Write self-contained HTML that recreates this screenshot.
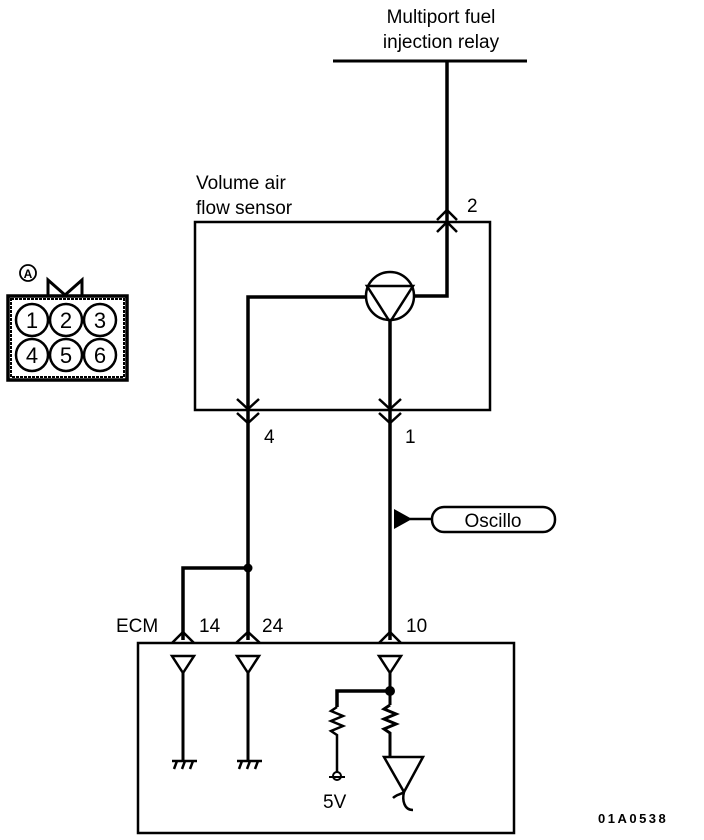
<!DOCTYPE html>
<html><head><meta charset="utf-8"><style>
html,body{margin:0;padding:0;background:#fff;width:704px;height:840px;overflow:hidden}
text{font-family:"Liberation Sans",sans-serif;fill:#000}
</style></head><body>
<svg width="704" height="840" viewBox="0 0 704 840" xmlns="http://www.w3.org/2000/svg" fill="none" stroke="#000">
<text x="441" y="23" font-size="19" text-anchor="middle" stroke="none">Multiport fuel</text>
<text x="441" y="48" font-size="19" text-anchor="middle" stroke="none">injection relay</text>
<line x1="333" y1="61" x2="527" y2="61" stroke-width="3"/>
<polyline points="447,61 447,296 414,296" stroke-width="3.5"/>
<text x="196" y="189" font-size="19" stroke="none">Volume air</text>
<text x="196" y="214" font-size="19" stroke="none">flow sensor</text>
<rect x="195" y="222" width="295" height="188" stroke-width="2.5"/>
<path d="M437,220 L447,210 L457,220 M437,232 L447,222 L457,232" stroke-width="2.5"/>
<text x="467" y="212" font-size="19" stroke="none">2</text>
<circle cx="390" cy="296" r="24" stroke-width="2.5"/>
<path d="M367,286 L413,286 L390,322 Z" stroke-width="2.5"/>
<polyline points="366,297 248,297 248,640" stroke-width="3.5"/>
<line x1="390" y1="322" x2="390" y2="640" stroke-width="3.5"/>
<path d="M237,399 L248,409 L259,399 M237,413 L248,423 L259,413" stroke-width="2.5"/>
<path d="M379,399 L390,409 L401,399 M379,413 L390,423 L401,413" stroke-width="2.5"/>
<text x="264" y="443" font-size="19" stroke="none">4</text>
<text x="405" y="443" font-size="19" stroke="none">1</text>
<path d="M394,509 L412,519 L394,529 Z" fill="#000" stroke="none"/>
<line x1="410" y1="519" x2="432" y2="519" stroke-width="2.5"/>
<rect x="432" y="507" width="123" height="25" rx="12" stroke-width="2.5"/>
<text x="493" y="527" font-size="19" text-anchor="middle" stroke="none" font-family="Liberation Mono">Oscillo</text>
<circle cx="248" cy="568" r="4.5" fill="#000" stroke="none"/>
<polyline points="248,568 183,568 183,640" stroke-width="3.5"/>
<rect x="138" y="643" width="376" height="190" stroke-width="2.5"/>
<text x="116" y="632" font-size="19" stroke="none">ECM</text>
<text x="199" y="632" font-size="19" stroke="none">14</text>
<text x="262" y="632" font-size="19" stroke="none">24</text>
<text x="406" y="632" font-size="19" stroke="none">10</text>
<path d="M172,643 L183,632 L194,643 M236,643 L248,632 L260,643 M379,643 L390,632 L401,643" stroke-width="2.5"/>
<path d="M172,656 L194,656 L183,673 Z M237,656 L259,656 L248,673 Z M379,656 L401,656 L390,673 Z" stroke-width="2.5"/>
<line x1="183" y1="673" x2="183" y2="760" stroke-width="3"/>
<line x1="248" y1="673" x2="248" y2="760" stroke-width="3"/>
<path d="M172,761 L197,761 M174,769 L177,761 M182,769 L185,761 M190,769 L193,761 M237,761 L262,761 M239,769 L242,761 M247,769 L250,761 M255,769 L258,761" stroke-width="2.5"/>
<line x1="390" y1="673" x2="390" y2="705" stroke-width="3"/>
<circle cx="390" cy="691" r="5" fill="#000" stroke="none"/>
<polyline points="390,691 337,691 337,707" stroke-width="3.5"/>
<path d="M337,707 L331,711 L343,716 L331,721 L343,726 L331,731 L337,735 L337,772" stroke-width="2.5"/>
<path d="M390,705 L384,709 L396,714 L384,719 L396,724 L384,729 L390,733 L390,757" stroke-width="3"/>
<circle cx="337" cy="776" r="4" stroke-width="2"/>
<line x1="329" y1="777" x2="345" y2="777" stroke-width="2"/>
<text x="323" y="808" font-size="19" stroke="none">5V</text>
<path d="M384,757 L423,757 L404,792 Z" stroke-width="2.5"/>
<path d="M404,792 C402,800 404,810 413,810 M404,792 C400,795 397,794 393,798" stroke-width="2.5"/>
<text x="598" y="823" font-size="13" font-weight="bold" stroke="none" letter-spacing="2.5">01A0538</text>
<circle cx="28" cy="273" r="8" stroke-width="1.8"/>
<text x="28" y="278" font-size="12" text-anchor="middle" stroke="none" font-weight="bold">A</text>
<path d="M48,296 L48,280 L65,295 L82,280 L82,296" stroke-width="3"/>
<rect x="8" y="296" width="119" height="84" stroke-width="3.5"/>
<rect x="11" y="299" width="113" height="78" stroke-width="2" stroke-dasharray="3 1"/>
<g stroke-width="2.5">
<circle cx="32" cy="320" r="16"/><circle cx="66" cy="320" r="16"/><circle cx="100" cy="320" r="16"/>
<circle cx="32" cy="355" r="16"/><circle cx="66" cy="355" r="16"/><circle cx="100" cy="355" r="16"/>
</g>
<g font-size="22" text-anchor="middle" stroke="none">
<text x="32" y="328">1</text><text x="66" y="328">2</text><text x="100" y="328">3</text>
<text x="32" y="363">4</text><text x="66" y="363">5</text><text x="100" y="363">6</text>
</g>
</svg>
</body></html>
